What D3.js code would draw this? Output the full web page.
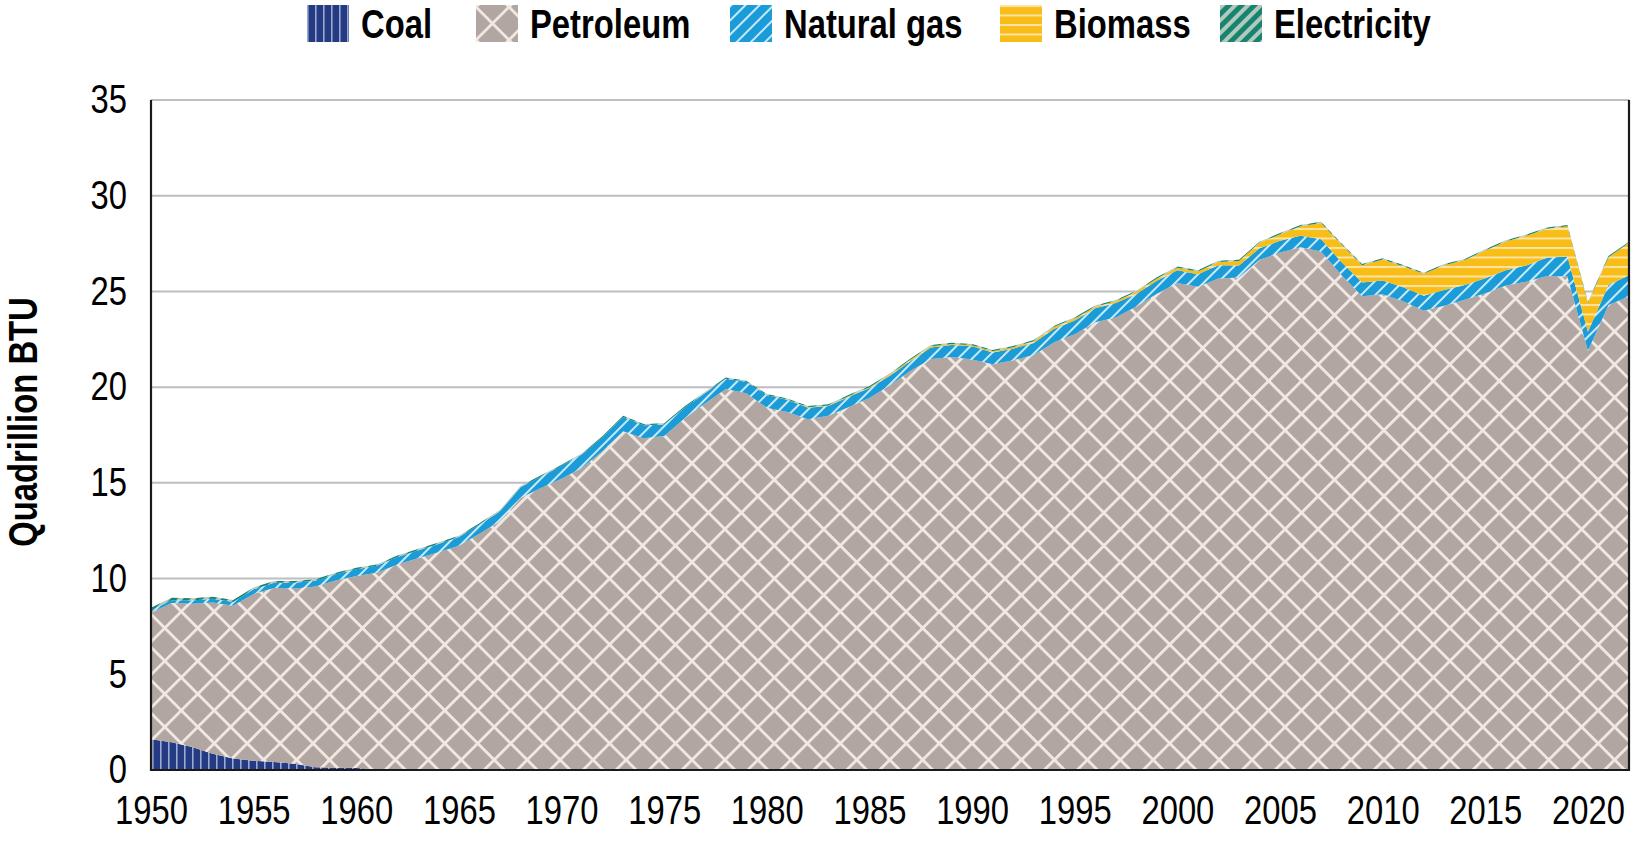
<!DOCTYPE html>
<html>
<head>
<meta charset="utf-8">
<script src="https://cdn.jsdelivr.net/npm/d3@7"></script>
<style>
  body { margin: 0; background: #fff; }
  text { font-family: "Liberation Sans Narrow", "Arial Narrow", "Liberation Sans", sans-serif; fill: #000; }
</style>
</head>
<body>
<script>
// Consumo de energía del transporte por fuente, 1950-2022 (quadrillion BTU)

let years = d3.range(1950, 2023);

let coal = [1.6, 1.45, 1.2, 0.85, 0.6, 0.48, 0.42, 0.33, 0.15, 0.12,
            0.1, 0.04, 0.02, 0.01, 0.01, 0.01, 0.01, 0.01, 0.01, 0.01,
            0, 0, 0, 0, 0, 0, 0, 0, 0, 0,
            0, 0, 0, 0, 0, 0, 0, 0, 0, 0,
            0, 0, 0, 0, 0, 0, 0, 0, 0, 0,
            0, 0, 0, 0, 0, 0, 0, 0, 0, 0,
            0, 0, 0, 0, 0, 0, 0, 0, 0, 0,
            0, 0, 0];

let petroleum = [6.61, 7.27, 7.48, 7.9, 7.98, 8.72, 9.09, 9.15, 9.43, 9.78,
                 10.03, 10.26, 10.72, 11.05, 11.37, 11.71, 12.33, 12.98, 14.2, 14.72,
                 15.21, 15.79, 16.67, 17.69, 17.33, 17.45, 18.38, 19.16, 19.9, 19.68,
                 18.93, 18.7, 18.32, 18.51, 18.96, 19.43, 20.1, 20.85, 21.47, 21.57,
                 21.45, 21.19, 21.41, 21.68, 22.35, 22.76, 23.39, 23.64, 24.21, 24.88,
                 25.44, 25.24, 25.67, 25.73, 26.65, 27.03, 27.31, 27.08, 25.84, 24.75,
                 24.85, 24.49, 23.99, 24.25, 24.56, 24.91, 25.31, 25.51, 25.81, 25.78,
                 21.9, 24.29, 24.74];

let naturalGas = [0.13, 0.15, 0.17, 0.19, 0.2, 0.24, 0.27, 0.3, 0.3, 0.33,
                  0.36, 0.37, 0.39, 0.41, 0.43, 0.45, 0.48, 0.52, 0.56, 0.6,
                  0.68, 0.7, 0.72, 0.75, 0.68, 0.6, 0.56, 0.54, 0.54, 0.6,
                  0.65, 0.64, 0.61, 0.5, 0.54, 0.52, 0.5, 0.52, 0.6, 0.63,
                  0.68, 0.62, 0.6, 0.63, 0.7, 0.72, 0.73, 0.75, 0.66, 0.68,
                  0.67, 0.66, 0.7, 0.63, 0.6, 0.62, 0.6, 0.65, 0.69, 0.72,
                  0.72, 0.73, 0.78, 0.82, 0.78, 0.78, 0.8, 0.85, 0.95, 1.05,
                  1.0, 1.05, 1.1];

let biomass = [0, 0, 0, 0, 0, 0, 0, 0, 0, 0,
               0, 0, 0, 0, 0, 0, 0, 0, 0, 0,
               0, 0, 0, 0, 0, 0, 0, 0, 0, 0,
               0, 0.01, 0.02, 0.03, 0.04, 0.05, 0.06, 0.07, 0.07, 0.06,
               0.06, 0.07, 0.08, 0.09, 0.1, 0.11, 0.08, 0.1, 0.11, 0.12,
               0.13, 0.14, 0.17, 0.23, 0.29, 0.34, 0.5, 0.85, 0.92, 0.9,
               1.1, 1.1, 1.15, 1.3, 1.3, 1.45, 1.5, 1.55, 1.52, 1.58,
               1.5, 1.45, 1.7];

let electricity = [0.14, 0.13, 0.12, 0.11, 0.1, 0.1, 0.09, 0.09, 0.08, 0.08,
                   0.08, 0.07, 0.07, 0.07, 0.07, 0.07, 0.07, 0.07, 0.07, 0.07,
                   0.06, 0.06, 0.06, 0.06, 0.06, 0.06, 0.06, 0.06, 0.06, 0.06,
                   0.06, 0.06, 0.06, 0.06, 0.06, 0.06, 0.06, 0.06, 0.06, 0.06,
                   0.06, 0.06, 0.06, 0.06, 0.06, 0.06, 0.06, 0.06, 0.06, 0.06,
                   0.06, 0.06, 0.06, 0.06, 0.06, 0.06, 0.06, 0.06, 0.06, 0.06,
                   0.06, 0.06, 0.06, 0.06, 0.06, 0.06, 0.06, 0.06, 0.06, 0.06,
                   0.06, 0.06, 0.06];

let seriesNames = ["Coal", "Petroleum", "Natural gas", "Biomass", "Electricity"];
let seriesValues = [coal, petroleum, naturalGas, biomass, electricity];

let xTicks = [1950, 1955, 1960, 1965, 1970, 1975, 1980, 1985, 1990, 1995, 2000, 2005, 2010, 2015, 2020];
let yTicks = [0, 5, 10, 15, 20, 25, 30, 35];

let WIDTH = 1642, HEIGHT = 842;
let plot = {left: 151, right: 1629, top: 100, bottom: 770};
let NARROW = 0.82; // no hay Arial Narrow: se comprime Liberation Sans

let svg = d3.select("body").append("svg")
            .attr("width", WIDTH)
            .attr("height", HEIGHT);

// Patrones de relleno para cada fuente
let defs = svg.append("defs");

function stripes(id, bg, fg, size, lw, angle) {
    let p = defs.append("pattern")
                .attr("id", id)
                .attr("patternUnits", "userSpaceOnUse")
                .attr("width", size).attr("height", size)
                .attr("patternTransform", `rotate(${angle})`);
    p.append("rect").attr("width", size).attr("height", size).attr("fill", bg);
    p.append("rect").attr("x", 0).attr("width", lw).attr("height", size).attr("fill", fg);
}

stripes("pat-coal", "#243a82", "#9ba8cf", 8, 1.6, 0);
stripes("pat-gas", "#1b9bd7", "#c6eaf9", 10, 2, 45);
stripes("pat-bio", "#f8bd17", "#fde3a5", 9.5, 2, 90);
stripes("pat-elec", "#16846f", "#b3c9be", 9, 4, 45);

// rombos del petróleo
let petro = defs.append("pattern")
                .attr("id", "pat-petro")
                .attr("patternUnits", "userSpaceOnUse")
                .attr("width", 23.3).attr("height", 23.3)
                .attr("patternTransform", "rotate(45)");
petro.append("rect").attr("width", 23.3).attr("height", 23.3).attr("fill", "#b1a6a1");
petro.append("rect").attr("width", 2.8).attr("height", 23.3).attr("fill", "#f2e9e3");
petro.append("rect").attr("width", 23.3).attr("height", 2.8).attr("fill", "#f2e9e3");

let fills = ["url(#pat-coal)", "url(#pat-petro)", "url(#pat-gas)", "url(#pat-bio)", "url(#pat-elec)"];

// tabla para d3.stack
let table = years.map((y, i) => {
    let row = {year: y};
    seriesNames.forEach((name, k) => { row[name] = seriesValues[k][i]; });
    return row;
});

let stacked = d3.stack().keys(seriesNames)(table);

let x = d3.scaleLinear()
          .domain([years[0], years[years.length - 1]])
          .range([plot.left, plot.right]);

let y = d3.scaleLinear()
          .domain([0, 35])
          .range([plot.bottom, plot.top]);

// Líneas de grilla
svg.append("g")
   .selectAll("line")
   .data(yTicks.filter(t => t > 0))
   .enter()
   .append("line")
       .attr("x1", plot.left).attr("x2", plot.right)
       .attr("y1", d => y(d)).attr("y2", d => y(d))
       .attr("stroke", "#bdbdc2")
       .attr("stroke-width", 2);

let area = d3.area()
             .x(d => x(d.data.year))
             .y0(d => y(d[0]))
             .y1(d => y(d[1]));

svg.append("g")
   .selectAll("path")
   .data(stacked)
   .enter()
   .append("path")
       .attr("d", area)
       .attr("fill", (d, i) => fills[i]);

// Ejes
let yAxis = d3.axisLeft(y).tickValues(yTicks).tickSize(0);
let yg = svg.append("g")
            .attr("transform", `translate(${plot.left},0)`)
            .call(yAxis);
yg.select(".domain").remove();
yg.selectAll("text")
  .attr("font-size", 40)
  .attr("font-family", null)
  .attr("x", -24 / NARROW)
  .attr("transform", `scale(${NARROW},1)`);

let xAxis = d3.axisBottom(x).tickValues(xTicks).tickFormat(d3.format("d")).tickSize(0).tickPadding(26);
let xg = svg.append("g")
            .attr("transform", `translate(0,${plot.bottom})`)
            .call(xAxis);
xg.select(".domain").remove();
xg.selectAll("text")
  .attr("font-size", 40)
  .attr("font-family", null)
  .attr("transform", `scale(${NARROW},1)`);

// marco: izquierda, abajo y derecha
svg.append("path")
   .attr("d", `M${plot.left},${plot.top}V${plot.bottom}H${plot.right}V${plot.top}`)
   .attr("fill", "none")
   .attr("stroke", "#1a1a1a")
   .attr("stroke-width", 2.2);

// Título eje Y
svg.append("text")
   .attr("transform", `translate(37,422) rotate(-90) scale(${NARROW},1)`)
   .attr("text-anchor", "middle")
   .attr("font-size", 40)
   .attr("font-weight", "bold")
   .text("Quadrillion BTU");

// Leyenda
let legendX = [307, 476, 730, 1000, 1220];
let legend = svg.append("g")
                .selectAll("g")
                .data(seriesNames)
                .enter()
                .append("g")
                    .attr("transform", (d, i) => `translate(${legendX[i]},5)`);

legend.append("rect")
      .attr("width", 42)
      .attr("height", 37)
      .attr("fill", (d, i) => fills[i]);

legend.append("text")
      .attr("x", 54 / NARROW)
      .attr("y", 33)
      .attr("transform", `scale(${NARROW},1)`)
      .attr("font-size", 40)
      .attr("font-weight", "bold")
      .text(d => d);
</script>
</body>
</html>
